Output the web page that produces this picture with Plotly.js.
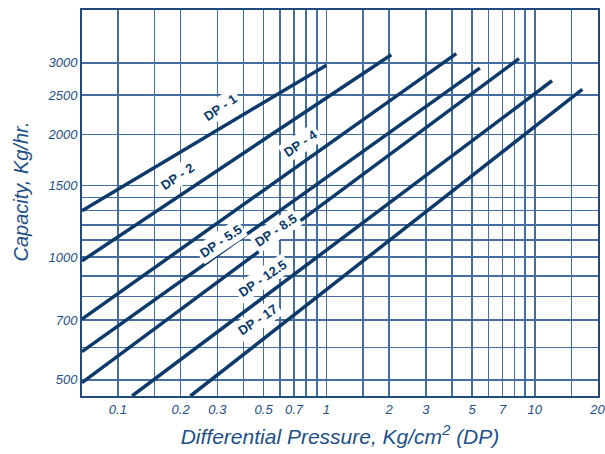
<!DOCTYPE html>
<html>
<head>
<meta charset="utf-8">
<script src="https://cdn.plot.ly/plotly-3.0.1.min.js"></script>
<style>html,body{margin:0;padding:0;background:#fff}#chart{width:605px;height:454px}</style>
</head>
<body>
<div id="chart"></div>
<script>
// Series: each DP curve as [start, end] points (Differential Pressure, Capacity)
const seriesNames = ['DP - 1', 'DP - 2', 'DP - 4', 'DP - 5.5', 'DP - 8.5', 'DP - 12.5', 'DP - 17'];
const dp1X = [0.0673, 1.0],   dp1Y = [1300, 2960];
const dp2X = [0.0673, 2.05],  dp2Y = [979, 3140];
const dp4X = [0.0673, 4.2],   dp4Y = [704, 3160];
const dp55X = [0.0673, 5.45], dp55Y = [586, 2910];
const dp85X = [0.0673, 8.4],  dp85Y = [492, 3070];
const dp125X = [0.117, 12.1], dp125Y = [456, 2710];
const dp17X = [0.223, 16.9],  dp17Y = [456, 2580];

// Label anchor points (DP, Capacity)
const labelX = [0.31, 0.193, 0.75, 0.31, 0.569, 0.493, 0.472];
const labelY = [2331, 1579, 1903, 1095, 1165, 888, 701];

// Axis ticks (labelled) and grid lines (all)
const xTickVals = [0.1, 0.2, 0.3, 0.5, 0.7, 1, 2, 3, 5, 7, 10, 20];
const xTickLabels = ['0.1', '0.2', '0.3', '0.5', '0.7', '1', '2', '3', '5', '7', '10', '20'];
const xGridVals = [0.1,0.15,0.2,0.3,0.4,0.5,0.6,0.7,0.8,0.9,1,1.5,2,3,4,5,6,7,8,9,10,15,20];
const yTickVals = [500, 700, 1000, 1500, 2000, 2500, 3000];
const yTickLabels = ['500', '700', '1000', '1500', '2000', '2500', '3000'];
const yGridVals = [500,600,700,800,900,1000,1100,1200,1300,1400,1500,2000,2500,3000];

const xs = [dp1X, dp2X, dp4X, dp55X, dp85X, dp125X, dp17X];
const ys = [dp1Y, dp2Y, dp4Y, dp55Y, dp85Y, dp125Y, dp17Y];

const lineColor = '#0c3a6b';
const gridColor = '#456e9e';
const textColor = '#1f4f86';
const fam = '"Liberation Sans", Arial, sans-serif';

const traces = seriesNames.map((n, i) => ({
  type: 'scatter', mode: 'lines', name: n,
  x: xs[i], y: ys[i],
  line: {color: lineColor, width: 3.5},
  hoverinfo: 'skip'
}));

const annotations = seriesNames.map((n, i) => ({
  x: Math.log10(labelX[i]), y: Math.log10(labelY[i]),
  xref: 'x', yref: 'y', text: n, showarrow: false,
  textangle: -34, bgcolor: '#ffffff', borderpad: 2,
  font: {family: fam, size: 13, color: lineColor, weight: 'bold'}
}));

annotations.push({
  xref: 'paper', yref: 'paper', x: -0.118, y: 0.53,
  text: 'Capacity, Kg/hr.', showarrow: false, textangle: -90,
  xanchor: 'center', yanchor: 'middle',
  font: {family: fam, size: 20, color: textColor, style: 'italic'}
});

const tickFont = {family: fam, size: 13, color: textColor, style: 'italic'};

const axisCommon = {
  type: 'log', tickmode: 'array', ticks: '',
  showgrid: true, gridcolor: gridColor, gridwidth: 1.6,
  showline: true, mirror: true, linecolor: '#1f4a7a', linewidth: 2,
  zeroline: false, tickfont: tickFont, ticklabeloverflow: 'allow'
};

const layout = {
  width: 605, height: 454,
  margin: {l: 82, r: 7, t: 10, b: 58},
  paper_bgcolor: '#ffffff', plot_bgcolor: '#ffffff',
  showlegend: false,
  xaxis: Object.assign({}, axisCommon, {
    range: [Math.log10(0.0673), Math.log10(20.1)],
    tickvals: xTickVals, ticktext: xTickLabels,
    minor: {tickmode: 'array', tickvals: xGridVals, showgrid: true, gridcolor: gridColor, gridwidth: 1.6, ticks: ''},
    title: {text: 'Differential Pressure, Kg/cm<sup>2</sup> (DP)', standoff: 14,
            font: {family: fam, size: 21, color: textColor, style: 'italic'}}
  }),
  yaxis: Object.assign({}, axisCommon, {
    range: [Math.log10(456), Math.log10(4043)],
    tickvals: yTickVals, ticktext: yTickLabels,
    minor: {tickmode: 'array', tickvals: yGridVals, showgrid: true, gridcolor: gridColor, gridwidth: 1.6, ticks: ''}
  }),
  annotations: annotations
};

Plotly.newPlot('chart', traces, layout, {staticPlot: true, displayModeBar: false});
</script>
</body>
</html>
